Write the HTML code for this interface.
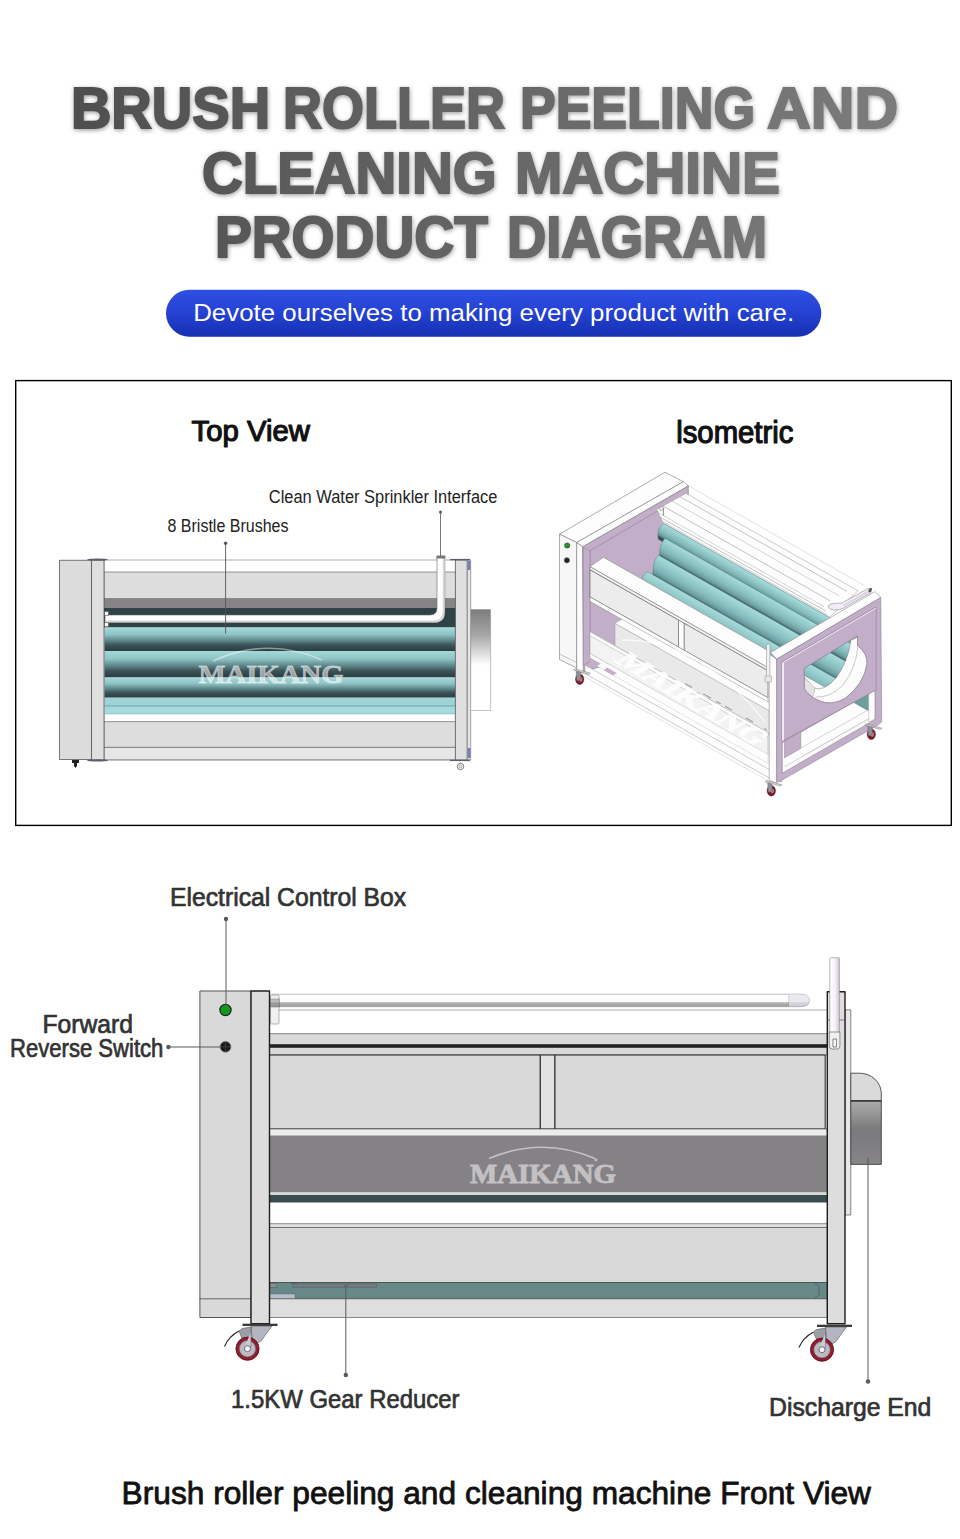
<!DOCTYPE html>
<html lang="en">
<head>
<meta charset="utf-8">
<title>Brush Roller Peeling and Cleaning Machine Product Diagram</title>
<style>
html,body{margin:0;padding:0;background:#fff;}
body{width:960px;height:1539px;overflow:hidden;position:relative;font-family:"Liberation Sans",sans-serif;}
svg{position:absolute;left:0;top:0;display:block;}
text{font-family:"Liberation Sans",sans-serif;}
.ttl text{font-weight:bold;font-size:57.5px;fill:url(#tg);stroke:url(#tg);stroke-width:2px;stroke-linejoin:miter;}
.med{stroke-linejoin:round;}
.wm{font-family:"Liberation Serif",serif;font-weight:bold;}
</style>
</head>
<body>
<svg width="960" height="1539" viewBox="0 0 960 1539">
<defs>
<linearGradient id="tg" gradientUnits="userSpaceOnUse" x1="70" y1="0" x2="900" y2="0">
<stop offset="0" stop-color="#4f4f4f"/><stop offset="1" stop-color="#7c7c7c"/>
</linearGradient>
<filter id="tsh" x="-5%" y="-20%" width="110%" height="150%">
<feDropShadow dx="0.5" dy="1.3" stdDeviation="2.3" flood-color="#000" flood-opacity="0.4"/>
</filter>
<linearGradient id="pill" x1="0" y1="0" x2="0" y2="1">
<stop offset="0" stop-color="#2f50e4"/><stop offset="0.5" stop-color="#2441d2"/><stop offset="1" stop-color="#1530b0"/>
</linearGradient>
</defs>

<!-- ===== HEADER ===== -->
<g id="header">
<g class="ttl" filter="url(#tsh)">
<text x="70.9" y="127.6" textLength="199.2" lengthAdjust="spacingAndGlyphs">BRUSH</text>
<text x="282.9" y="127.6" textLength="222.1" lengthAdjust="spacingAndGlyphs">ROLLER</text>
<text x="519.9" y="127.6" textLength="235.2" lengthAdjust="spacingAndGlyphs">PEELING</text>
<text x="767.0" y="127.6" textLength="131.1" lengthAdjust="spacingAndGlyphs">AND</text>
<text x="202.0" y="192.7" textLength="294.6" lengthAdjust="spacingAndGlyphs">CLEANING</text>
<text x="514.9" y="192.7" textLength="265.1" lengthAdjust="spacingAndGlyphs">MACHINE</text>
<text x="214.9" y="256.6" textLength="273.0" lengthAdjust="spacingAndGlyphs">PRODUCT</text>
<text x="506.9" y="256.6" textLength="260.2" lengthAdjust="spacingAndGlyphs">DIAGRAM</text>
</g>
<rect x="166" y="289.8" width="655.3" height="46.9" rx="23.45" fill="url(#pill)"/>
<text id="sub" x="193.2" y="321.3" font-size="24.6" fill="#fff" textLength="601" lengthAdjust="spacingAndGlyphs">Devote ourselves to making every product with care.</text>
</g>

<!-- ===== BOX ===== -->
<rect x="15.7" y="380.6" width="935.6" height="444.8" fill="#fff" stroke="#000" stroke-width="1.4"/>
<text id="tv" class="med" x="191.6" y="441.2" font-size="29.3" fill="#111" stroke="#111" stroke-width="1.2" textLength="118.2" lengthAdjust="spacingAndGlyphs">Top View</text>
<text id="iso" class="med" x="676.2" y="443" font-size="30.5" fill="#111" stroke="#111" stroke-width="1.2" textLength="117.2" lengthAdjust="spacingAndGlyphs">lsometric</text>
<text id="cw" x="268.8" y="503.1" font-size="17.5" fill="#222" textLength="228.6" lengthAdjust="spacingAndGlyphs">Clean Water Sprinkler Interface</text>
<text id="bb" x="167.5" y="532" font-size="17.5" fill="#222" textLength="121.0" lengthAdjust="spacingAndGlyphs">8 Bristle Brushes</text>

<!--TV0--><!-- ===== TOP VIEW ===== -->
<defs>
<linearGradient id="rol" x1="0" y1="0" x2="0" y2="1">
<stop offset="0" stop-color="#a3d9db"/><stop offset="0.3" stop-color="#8fc3c5"/><stop offset="0.55" stop-color="#5f878a"/><stop offset="0.75" stop-color="#3a5357"/><stop offset="1" stop-color="#2b3c40"/>
</linearGradient>
<linearGradient id="dis1" x1="0" y1="0" x2="0" y2="1">
<stop offset="0" stop-color="#7d7d7d"/><stop offset="0.25" stop-color="#a5a5a5"/><stop offset="0.55" stop-color="#ffffff"/><stop offset="1" stop-color="#ffffff"/>
</linearGradient>
<linearGradient id="pipeh" x1="0" y1="0" x2="0" y2="1">
<stop offset="0" stop-color="#ffffff"/><stop offset="0.7" stop-color="#ffffff"/><stop offset="1" stop-color="#c8c8c8"/>
</linearGradient>
<linearGradient id="pipev" x1="0" y1="0" x2="1" y2="0">
<stop offset="0" stop-color="#ffffff"/><stop offset="0.6" stop-color="#f0ecf2"/><stop offset="1" stop-color="#c9c3cc"/>
</linearGradient>
</defs>
<g id="topview" stroke-linejoin="round">
<!-- frame rails -->
<rect x="104" y="560" width="352" height="200" fill="#fff" stroke="#777" stroke-width="0.6"/>
<rect x="104" y="572" width="352" height="26.5" fill="#dddddd" stroke="#555" stroke-width="0.6"/>
<rect x="104" y="598.5" width="352" height="9.5" fill="#858385"/>
<rect x="104" y="608" width="352" height="19.5" fill="#2f4246"/>
<!-- rollers -->
<rect x="104.5" y="627.5" width="351" height="23.5" fill="url(#rol)"/>
<rect x="104.5" y="651" width="351" height="26.5" fill="url(#rol)"/>
<rect x="104.5" y="677.5" width="351" height="20.2" fill="url(#rol)"/>
<rect x="104.5" y="697.7" width="351" height="8.3" fill="#9dd3d6"/>
<rect x="104.5" y="706" width="351" height="8" fill="#a6dbde"/>
<line x1="104.5" y1="706" x2="455.5" y2="706" stroke="#5f9092" stroke-width="0.7"/>
<line x1="104.5" y1="714" x2="455.5" y2="714" stroke="#7aa" stroke-width="0.5"/>
<rect x="104" y="721.6" width="352" height="25.8" fill="#dddddd" stroke="#555" stroke-width="0.6"/>
<rect x="104" y="747.4" width="352" height="12.4" fill="#e6e6e6" stroke="#555" stroke-width="0.6"/>
<!-- sprinkler pipe -->
<path d="M105 615 H430 Q437 615 437 608 V557 H444.8 V612 Q444.8 622.6 434 622.6 H105 Z" fill="#fff" stroke="#666" stroke-width="0.6"/>
<path d="M105 620.5 H434 Q442.8 620.5 442.8 611 V557 H444.8 V612 Q444.8 622.6 434 622.6 H105 Z" fill="#cfcad2" opacity="0.8"/>
<rect x="436.5" y="555.5" width="8.8" height="3" fill="#777"/>
<rect x="104.5" y="611.5" width="4" height="4" fill="#fff" stroke="#444" stroke-width="0.5"/>
<rect x="104.5" y="622.6" width="4" height="4" fill="#fff" stroke="#444" stroke-width="0.5"/>
<!-- left cabinet + posts -->
<rect x="59.5" y="560.3" width="32" height="199.2" fill="#dcdcdc" stroke="#444" stroke-width="0.7"/>
<rect x="91.5" y="560" width="12.5" height="200" fill="#dfdfdf" stroke="#444" stroke-width="0.7"/>
<ellipse cx="97.5" cy="559.6" rx="10.5" ry="1.2" fill="#5a6070"/>
<ellipse cx="97.5" cy="760.4" rx="10.5" ry="1.2" fill="#5a6070"/>
<path d="M72 760 h7 v3 h-2 v3 l-1.5 2 l-1.5 -2 v-3 h-2 z" fill="#222"/>
<!-- right post -->
<rect x="455.4" y="560" width="11.9" height="200" fill="#dfdfdf" stroke="#444" stroke-width="0.7"/>
<rect x="467.3" y="560" width="3.4" height="200" fill="#e4e4ea" stroke="#555" stroke-width="0.5"/>
<rect x="467.5" y="561" width="3" height="9" fill="#7880a8"/>
<rect x="467.5" y="748" width="3" height="10" fill="#7880a8"/>
<path d="M450 559.6 H470 " stroke="#5a6070" stroke-width="1.4"/>
<path d="M450 760.4 H470 " stroke="#5a6070" stroke-width="1.4"/>
<circle cx="460.5" cy="766.5" r="3.2" fill="#fff" stroke="#444" stroke-width="0.7"/>
<circle cx="460.5" cy="766.5" r="1.4" fill="#fff" stroke="#444" stroke-width="0.5"/>
<!-- discharge -->
<rect x="470.7" y="609.5" width="19.9" height="101" fill="url(#dis1)" stroke="#999" stroke-width="0.6"/>
<!-- watermark -->
<path d="M213 661 Q268 636 322 660" fill="none" stroke="#fff" stroke-opacity="0.45" stroke-width="1.6"/>
<text class="wm" x="198.5" y="683.3" font-size="26" fill="#ffffff" fill-opacity="0.5" stroke="#fff" stroke-opacity="0.5" stroke-width="0.8" textLength="145" lengthAdjust="spacingAndGlyphs">MAIKANG</text>
<!-- leaders -->
<line x1="225.6" y1="543.3" x2="225.6" y2="633.5" stroke="#555" stroke-width="0.9"/>
<circle cx="225.6" cy="543.3" r="1.7" fill="#555"/>
<line x1="440.5" y1="512" x2="440.5" y2="556" stroke="#555" stroke-width="0.8"/>
<circle cx="440.5" cy="512" r="1.5" fill="#555"/>
</g>
<!--TV1-->
<!--ISO0--><!-- ===== ISOMETRIC ===== -->
<g id="isoview" stroke-linejoin="round">
<polygon points="582.5,546.7 688.3,485.8 688.3,640.0 582.5,672.0" fill="#c2aec8" stroke="#777" stroke-width="0.6" />
<line x1="590.0" y1="550.8" x2="683.3" y2="495.8" stroke="#85758c" stroke-width="0.5" />
<line x1="590.0" y1="550.8" x2="590.0" y2="662.0" stroke="#85758c" stroke-width="0.5" />
<polygon points="559.5,534.2 665.0,472.2 683.3,481.7 576.7,542.5" fill="#fdfdfd" stroke="#777" stroke-width="0.6" />
<polygon points="559.5,534.2 576.7,542.5 576.7,668.0 559.5,659.5" fill="#f7f7f7" stroke="#777" stroke-width="0.6" />
<line x1="559.5" y1="654.0" x2="576.7" y2="662.5" stroke="#999" stroke-width="0.5" />
<polygon points="576.7,542.5 683.3,481.7 688.3,485.8 582.5,546.7" fill="#fdfdfd" stroke="#777" stroke-width="0.6" />
<polygon points="576.7,542.5 582.5,546.7 583.3,673.3 576.7,671.0" fill="#fdfdfd" stroke="#777" stroke-width="0.6" />
<polygon points="583.3,547.3 590.0,550.8 590.0,661.7 583.3,665.0" fill="#c2aec8" stroke="#85758c" stroke-width="0.4" />
<circle cx="567.2" cy="545.5" r="2.6" fill="#1f9a2a" stroke="#333" stroke-width="0.6"/>
<circle cx="566.9" cy="560.3" r="2.8" fill="#222" stroke="#999" stroke-width="0.6"/>
<polygon points="686.0,493.3 858.0,590.8 829.3,617.4 663.3,523.3 656.7,509.5" fill="#fdfdfd" stroke="#999" stroke-width="0.5" />
<line x1="680.0" y1="496.7" x2="847.0" y2="591.4" stroke="#888" stroke-width="0.5" />
<line x1="672.0" y1="501.0" x2="839.0" y2="595.7" stroke="#aaa" stroke-width="0.5" />
<line x1="663.0" y1="506.0" x2="830.0" y2="600.7" stroke="#888" stroke-width="0.5" />
<line x1="658.0" y1="512.5" x2="824.0" y2="606.6" stroke="#aaa" stroke-width="0.5" />
<line x1="660.0" y1="517.0" x2="826.0" y2="611.1" stroke="#888" stroke-width="0.5" />
<line x1="662.0" y1="521.0" x2="828.0" y2="615.1" stroke="#aaa" stroke-width="0.5" />
<line x1="688.3" y1="485.8" x2="863.3" y2="585.0" stroke="#c4c4c4" stroke-width="0.5" />
<linearGradient id="ir0" gradientUnits="userSpaceOnUse" x1="663.3" y1="523.3" x2="656.4" y2="535.4"><stop offset="0" stop-color="#a6dcdc"/><stop offset="0.3" stop-color="#97cccd"/><stop offset="0.6" stop-color="#84b9bb"/><stop offset="0.85" stop-color="#689a9d"/><stop offset="0.96" stop-color="#446669"/><stop offset="1" stop-color="#354f53"/></linearGradient>
<path d="M663.3 523.3 L863.3 636.7 L858.3 652.7 L658.3 539.3 Q656.3 528.9 663.3 523.3 Z" fill="url(#ir0)" stroke="#4a6a6e" stroke-width="0.4"/>
<linearGradient id="ir1" gradientUnits="userSpaceOnUse" x1="665.0" y1="538.3" x2="656.0" y2="554.2"><stop offset="0" stop-color="#a6dcdc"/><stop offset="0.3" stop-color="#97cccd"/><stop offset="0.6" stop-color="#84b9bb"/><stop offset="0.85" stop-color="#689a9d"/><stop offset="0.96" stop-color="#446669"/><stop offset="1" stop-color="#354f53"/></linearGradient>
<path d="M665.0 538.3 L865.0 651.7 L860.0 672.7 L660.0 559.3 Q658.0 545.6 665.0 538.3 Z" fill="url(#ir1)" stroke="#4a6a6e" stroke-width="0.4"/>
<linearGradient id="ir2" gradientUnits="userSpaceOnUse" x1="658.3" y1="555.0" x2="648.0" y2="573.2"><stop offset="0" stop-color="#a6dcdc"/><stop offset="0.3" stop-color="#97cccd"/><stop offset="0.6" stop-color="#84b9bb"/><stop offset="0.85" stop-color="#689a9d"/><stop offset="0.96" stop-color="#446669"/><stop offset="1" stop-color="#354f53"/></linearGradient>
<path d="M658.3 555.0 L858.3 668.4 L853.3 692.4 L653.3 579.0 Q651.3 563.4 658.3 555.0 Z" fill="url(#ir2)" stroke="#4a6a6e" stroke-width="0.4"/>
<linearGradient id="ir3" gradientUnits="userSpaceOnUse" x1="647.5" y1="571.7" x2="637.2" y2="589.9"><stop offset="0" stop-color="#a6dcdc"/><stop offset="0.3" stop-color="#97cccd"/><stop offset="0.6" stop-color="#84b9bb"/><stop offset="0.85" stop-color="#689a9d"/><stop offset="0.96" stop-color="#446669"/><stop offset="1" stop-color="#354f53"/></linearGradient>
<path d="M647.5 571.7 L843.5 682.8 L838.5 694.8 L642.5 583.7 Q640.5 575.9 647.5 571.7 Z" fill="url(#ir3)" stroke="#4a6a6e" stroke-width="0.4"/>
<path d="M851 640 Q848 662 836 678 Q824 692 813.8 688 L804 677 L800 700 L830 712 L880 690 L875 630 Z" fill="#fcfcfc" stroke="#777" stroke-width="0.5"/>
<path d="M858 646 Q856 668 843 685 Q830 698 816 697" fill="none" stroke="#999" stroke-width="0.5"/>
<path d="M804 677.5 L813.8 686.5 Q816 692 812 697 L804 690 Z" fill="#e4e4e4" stroke="#999" stroke-width="0.4"/>
<polygon points="590.0,566.7 603.3,557.2 770.3,651.9 770.0,668.8" fill="#fdfdfd" stroke="#888" stroke-width="0.6" />
<polygon points="590.0,566.7 770.0,668.8 770.0,672.0 590.0,569.9" fill="#f2f2f2" stroke="#666" stroke-width="0.5" />
<polygon points="590.0,569.9 678.5,620.1 678.5,647.1 590.0,596.9" fill="#ececec" stroke="#555" stroke-width="0.6" />
<polygon points="684.0,623.2 768.0,670.8 768.0,697.8 684.0,650.2" fill="#ececec" stroke="#555" stroke-width="0.6" />
<polygon points="678.5,620.1 684.0,623.2 684.0,650.2 678.5,647.1" fill="#fdfdfd" stroke="#555" stroke-width="0.5" />
<polygon points="590.0,596.9 768.0,697.8 768.0,702.3 590.0,601.4" fill="#fdfdfd" stroke="#777" stroke-width="0.5" />
<polygon points="615.0,623.3 769.4,710.8 769.4,734.2 615.0,645.9" fill="#e9e9e9" stroke="#999" stroke-width="0.5" />
<polygon points="615.0,623.3 622.0,619.2 770.0,703.1 769.4,710.8" fill="#fdfdfd" stroke="#aaa" stroke-width="0.5" />
<line x1="685.0" y1="683.5" x2="767.0" y2="730.0" stroke="#9a9a9a" stroke-width="1.1" stroke-dasharray="8 13 9 6 5 5 8 16"/>
<polygon points="590.0,631.7 768.0,732.6 768.0,755.6 590.0,653.4" fill="#f3f3f3" stroke="#999" stroke-width="0.5" />
<polygon points="590.0,631.7 768.0,732.6 768.0,736.6 590.0,635.7" fill="#fdfdfd" stroke="#aaa" stroke-width="0.5" />
<polygon points="590.0,653.5 768.0,754.4 768.0,763.4 590.0,662.0" fill="#fdfdfd" stroke="#bbb" stroke-width="0.4" />
<polygon points="585.0,665.0 771.0,770.5 771.0,779.0 585.0,673.5" fill="#fdfdfd" stroke="#999" stroke-width="0.5" />
<polygon points="590.0,657.5 601.0,663.7 596.0,666.5 590.0,663.2" fill="#c2aec8" stroke="none" stroke-width="0" />
<polygon points="607.0,667.5 617.0,673.2 613.0,675.3 604.0,670.3" fill="#c2aec8" stroke="none" stroke-width="0" />
<line x1="585.0" y1="677.0" x2="771.0" y2="782.5" stroke="#c8c8c8" stroke-width="0.5" />
<polygon points="782.0,742.0 876.0,690.0 876.0,722.0 782.0,776.0" fill="#fdfdfd" stroke="#aaa" stroke-width="0.4" />
<line x1="801.0" y1="748.0" x2="868.0" y2="710.0" stroke="#aaa" stroke-width="0.5" />
<line x1="801.0" y1="757.0" x2="868.0" y2="719.0" stroke="#bbb" stroke-width="0.4" />
<line x1="784.0" y1="767.0" x2="872.0" y2="717.0" stroke="#aaa" stroke-width="0.5" />
<polygon points="853.7,702.5 868.7,694.0 868.7,710.5 865.0,709.0" fill="#6f9f9d" stroke="#578" stroke-width="0.4" />
<polygon points="868.7,693.0 875.0,689.5 875.0,719.0 868.7,722.0" fill="#fdfdfd" stroke="#999" stroke-width="0.4" />
<polygon points="769.2,654.0 776.7,659.2 776.7,783.3 769.2,780.0" fill="#fdfdfd" stroke="#777" stroke-width="0.5" />
<polygon points="770.5,652.5 875.0,591.5 880.8,597.5 776.7,659.2" fill="#fdfdfd" stroke="#777" stroke-width="0.5" />
<path d="M776.7 659.2 L880.8 597.5 L881.7 722.0 L876.7 725.8 L781.7 780.3 L781.7 781.7 L776.7 781.7 Z M782.2 742.8 L875.2 689.8 L875.2 719.4 L782.2 773.2 Z M804.2 668.3 L857.5 635.8 L857.5 645.5 Q868 654 867 664 Q864 684 845 698.5 Q831 706 820 701 Q808 696 804.3 688.5 Z" fill="#c2aec8" fill-rule="evenodd" stroke="#85758c" stroke-width="0.5"/>
<polygon points="784.4,741.0 800.8,731.5 800.8,748.5 784.4,758.0" fill="#c2aec8" stroke="#85758c" stroke-width="0.4" />
<path d="M781.9 661.9 L876.2 607.0 L876.2 690.0 L781.9 741.5 Z M804.2 668.3 L857.5 635.8 L857.5 645.5 Q868 654 867 664 Q864 684 845 698.5 Q831 706 820 701 Q808 696 804.3 688.5 Z" fill="#c2aec8" fill-rule="evenodd" stroke="#85758c" stroke-width="0.5"/>
<polygon points="781.9,661.9 784.4,663.2 784.4,740.0 781.9,741.5" fill="#f6f2f7" stroke="#85758c" stroke-width="0.3" />
<line x1="782.5" y1="662.8" x2="876.0" y2="608.2" stroke="#f3eef5" stroke-width="0.9" />
<path d="M828 606.5 Q830 603 836 603.2 L841.5 603.2 L868.5 588.2 L871.5 592 L845 607.5 Q840 610.5 834 610 Q829 609.5 828 606.5 Z" fill="#f3ecf6" stroke="#777" stroke-width="0.5"/>
<path d="M843 606 L870 590.5" fill="none" stroke="#d9cfe0" stroke-width="1.6"/>
<ellipse cx="870.2" cy="590" rx="1.5" ry="2.4" transform="rotate(30 870.2 590)" fill="#555"/>
<circle cx="661.5" cy="508.5" r="2" fill="#eee" stroke="#777" stroke-width="0.5"/>
<line x1="663.5" y1="508.0" x2="663.5" y2="516.0" stroke="#999" stroke-width="1.2" />
<rect x="766.5" y="644" width="3.4" height="34" rx="1.5" fill="#f2f2f2" stroke="#888" stroke-width="0.5"/>
<rect x="765" y="676" width="6.5" height="6" rx="1" fill="#e8e8e8" stroke="#888" stroke-width="0.5"/>
<path d="M582.7 672.7 l-9 -2.6 l1.5 -1.2 l15 4.3 l-1.5 1.2z" fill="#d8d8d8" stroke="#555" stroke-width="0.4"/>
<ellipse cx="579.7" cy="679.2" rx="4.2" ry="5.3" fill="#7d1829" stroke="#4a0c16" stroke-width="0.4"/>
<ellipse cx="580.8" cy="679.5" rx="1.7" ry="2.4" fill="#a9777f"/>
<path d="M576.0 671.2 l4.5 1.3 l0.3 6 l-2.2 2.5 l-2 -0.8 z" fill="#8e8e96" stroke="#555" stroke-width="0.3"/>
<path d="M774.3 784.3 l-9 -2.6 l1.5 -1.2 l15 4.3 l-1.5 1.2z" fill="#d8d8d8" stroke="#555" stroke-width="0.4"/>
<ellipse cx="771.3" cy="790.8" rx="4.2" ry="5.3" fill="#7d1829" stroke="#4a0c16" stroke-width="0.4"/>
<ellipse cx="772.4" cy="791.1" rx="1.7" ry="2.4" fill="#a9777f"/>
<path d="M767.6 782.8 l4.5 1.3 l0.3 6 l-2.2 2.5 l-2 -0.8 z" fill="#8e8e96" stroke="#555" stroke-width="0.3"/>
<path d="M874.3 727.7 l-9 -2.6 l1.5 -1.2 l15 4.3 l-1.5 1.2z" fill="#d8d8d8" stroke="#555" stroke-width="0.4"/>
<ellipse cx="871.3" cy="734.2" rx="4.2" ry="5.3" fill="#7d1829" stroke="#4a0c16" stroke-width="0.4"/>
<ellipse cx="872.4" cy="734.5" rx="1.7" ry="2.4" fill="#a9777f"/>
<path d="M867.6 726.2 l4.5 1.3 l0.3 6 l-2.2 2.5 l-2 -0.8 z" fill="#8e8e96" stroke="#555" stroke-width="0.3"/>
<path d="M622 640 Q700 640 765 722" fill="none" stroke="#fff" stroke-opacity="0.7" stroke-width="1.4"/>
<text class="wm" transform="translate(613,661) rotate(31) skewX(-28)" font-size="25" fill="#fff" fill-opacity="0.9" stroke="#fff" stroke-opacity="0.9" stroke-width="0.7" textLength="166" lengthAdjust="spacingAndGlyphs">MAIKANG</text>
</g>
<!--ISO1-->

<!-- ===== FRONT VIEW LABELS ===== -->
<text id="ecb" class="med" x="170.0" y="905.9" font-size="25.2" fill="#333" stroke="#333" stroke-width="0.7" textLength="236.2" lengthAdjust="spacingAndGlyphs">Electrical Control Box</text>
<text id="fw" class="med" x="42.4" y="1032.7" font-size="25.2" fill="#333" stroke="#333" stroke-width="0.7" textLength="90.6" lengthAdjust="spacingAndGlyphs">Forward</text>
<text id="rs" class="med" x="10.0" y="1056.8" font-size="25.2" fill="#333" stroke="#333" stroke-width="0.7" textLength="153.4" lengthAdjust="spacingAndGlyphs">Reverse Switch</text>
<text id="gr" class="med" x="231.0" y="1408" font-size="25.2" fill="#333" stroke="#333" stroke-width="0.7" textLength="228.6" lengthAdjust="spacingAndGlyphs">1.5KW Gear Reducer</text>
<text id="de" class="med" x="769.0" y="1415.8" font-size="25.2" fill="#333" stroke="#333" stroke-width="0.7" textLength="162.4" lengthAdjust="spacingAndGlyphs">Discharge End</text>
<text id="cap" class="med" x="121.6" y="1503.8" font-size="30.8" fill="#111" stroke="#111" stroke-width="0.8" textLength="749.4" lengthAdjust="spacingAndGlyphs">Brush roller peeling and cleaning machine Front View</text>

<!--FV0--><!-- ===== FRONT VIEW ===== -->
<defs>
<linearGradient id="fpipe" x1="0" y1="0" x2="0" y2="1">
<stop offset="0" stop-color="#ffffff"/><stop offset="0.6" stop-color="#fafafa"/><stop offset="0.68" stop-color="#b4b4b4"/><stop offset="1" stop-color="#9a9a9a"/>
</linearGradient>
<linearGradient id="fpipev" x1="0" y1="0" x2="1" y2="0">
<stop offset="0" stop-color="#ffffff"/><stop offset="0.55" stop-color="#f6f2f8"/><stop offset="1" stop-color="#cfc6d4"/>
</linearGradient>
<linearGradient id="dis2" x1="0" y1="0" x2="0" y2="1">
<stop offset="0" stop-color="#ababab"/><stop offset="0.2" stop-color="#979797"/><stop offset="0.45" stop-color="#7a797b"/><stop offset="1" stop-color="#878587"/>
</linearGradient>
</defs>
<g id="frontview" stroke-linejoin="round">
<!-- back plate + discharge -->
<rect x="845" y="1009.8" width="5.8" height="205.2" fill="#e6e6e8" stroke="#555" stroke-width="0.7"/>
<path d="M850.8 1073.2 H859.5 A21.8 20.3 0 0 1 881.3 1093.5 V1100.9 H850.8 Z" fill="#dadada" stroke="#444" stroke-width="0.9"/>
<rect x="850.8" y="1100.9" width="30.5" height="63.5" fill="url(#dis2)" stroke="#444" stroke-width="0.9"/>
<line x1="850.8" y1="1100.9" x2="881.3" y2="1100.9" stroke="#3a3a3a" stroke-width="1.6"/>
<!-- inner frame background -->
<rect x="269.5" y="1010" width="558" height="307.5" fill="#fff"/>
<line x1="269.5" y1="1010" x2="827" y2="1010" stroke="#888" stroke-width="0.7"/>
<!-- top pipe -->
<path d="M272 994.2 H800 Q809.6 994.2 809.6 1000.4 Q809.6 1006.7 800 1006.7 H272 Z" fill="url(#fpipe)" stroke="#999" stroke-width="0.6"/>
<path d="M789 994.4 V1006.5" stroke="#999" stroke-width="0.6"/>
<path d="M789 994.4 H800 Q809.4 994.4 809.4 1000.4 Q809.4 1006.5 800 1006.5 H789 Z" fill="#e6dfe9" fill-opacity="0.7"/>
<rect x="270.5" y="995" width="8.5" height="29" rx="1" fill="#f0f0f0" stroke="#888" stroke-width="0.6"/>
<rect x="270" y="999" width="9.5" height="3.5" fill="#bbb" stroke="#666" stroke-width="0.4"/>
<rect x="270" y="1003.5" width="9.5" height="3.5" fill="#999" stroke="#555" stroke-width="0.4"/>
<!-- upper rail -->
<rect x="269.5" y="1033.7" width="557.8" height="21.3" fill="#d9d9d9" stroke="#555" stroke-width="0.7"/>
<rect x="269.5" y="1044.2" width="557.8" height="3.6" fill="#222"/>
<!-- upper panels -->
<rect x="269.5" y="1055" width="270.8" height="74" fill="#d9d9d9" stroke="#222" stroke-width="1"/>
<rect x="540.3" y="1055" width="14.7" height="74" fill="#e2e2e2" stroke="#222" stroke-width="1"/>
<rect x="555" y="1055" width="270.2" height="74" fill="#d9d9d9" stroke="#222" stroke-width="1"/>
<rect x="269.5" y="1129" width="557.8" height="7" fill="#ececec" stroke="#444" stroke-width="0.6"/>
<!-- dark band -->
<rect x="269.5" y="1136" width="557.8" height="56.5" fill="#848284"/>
<rect x="269.5" y="1192.5" width="557.8" height="2.5" fill="#d8d8d8"/>
<rect x="269.5" y="1195" width="557.8" height="7.5" fill="#3c4d51"/>
<!-- lower -->
<rect x="269.5" y="1223.7" width="557.8" height="3.8" fill="#e2e2e2" stroke="#444" stroke-width="0.6"/>
<rect x="269.5" y="1227.5" width="557.8" height="55" fill="#d9d9d9" stroke="#444" stroke-width="0.6"/>
<rect x="269.5" y="1282.5" width="557.8" height="16.3" fill="#668886" stroke="#344" stroke-width="0.7"/>
<path d="M290 1283 h6 l2 3 h50 v-3" fill="none" stroke="#344" stroke-width="0.5"/>
<rect x="293" y="1284" width="52" height="3.2" fill="#7a7d86" stroke="#444" stroke-width="0.4"/>
<rect x="347" y="1284" width="29.5" height="3.2" fill="#7a7d86" stroke="#444" stroke-width="0.4"/>
<rect x="270" y="1283.5" width="7" height="4" fill="#8a8d96" stroke="#444" stroke-width="0.4"/>
<rect x="270" y="1294" width="25" height="4.8" fill="#b9bccb" stroke="#556" stroke-width="0.4"/>
<path d="M815 1283 l4 3 v9 l-4 3" fill="none" stroke="#344" stroke-width="0.5"/>
<rect x="269.5" y="1298.8" width="557.8" height="18.7" fill="#dedede" stroke="#444" stroke-width="0.6"/>
<!-- cabinet -->
<rect x="199.9" y="991" width="51.1" height="326.5" fill="#d9d9d9" stroke="#555" stroke-width="1"/>
<line x1="199.5" y1="1298.8" x2="251" y2="1298.8" stroke="#333" stroke-width="0.7"/>
<rect x="251" y="991" width="18.5" height="332.7" fill="#dddddd" stroke="#1e1e1e" stroke-width="1.4"/>
<circle cx="225.5" cy="1010" r="5.6" fill="#129a1e" stroke="#222" stroke-width="1.2"/>
<circle cx="225.5" cy="1046.8" r="5.4" fill="#1a1a1a" stroke="#777" stroke-width="0.8"/>
<path d="M220.5 1046.8 h10 M225.5 1041.8 v10" stroke="#555" stroke-width="0.6"/>
<!-- right post -->
<rect x="827.3" y="991.7" width="17.7" height="332" fill="#dddddd" stroke="#1e1e1e" stroke-width="1.4"/>
<!-- vertical pipe -->
<rect x="829.8" y="957.7" width="9.6" height="78" rx="1" fill="url(#fpipev)" stroke="#888" stroke-width="0.6"/>
<path d="M829.3 1032 h10.6 v14 q0 3 -3 3 h-4.6 q-3 0 -3 -3 z" fill="#f0f0f0" stroke="#555" stroke-width="0.6"/>
<rect x="833" y="1039" width="3.4" height="8" fill="#fff" stroke="#333" stroke-width="0.6"/>
<path d="M827.3 1020 h2.5 M839.4 1020 h5.6" stroke="#444" stroke-width="0.6"/>
<!-- casters -->
<g id="cast1">
<rect x="242.5" y="1323.7" width="35" height="2.3" fill="#3a3a3a"/>
<path d="M251 1326 h21 l-11 15 l-8 4 z" fill="#b4b5c2" stroke="#555" stroke-width="0.6"/>
<path d="M239 1331 l3 -2.5 l9 -1.5 v18 l-8 -4 z" fill="#9d9ea8" stroke="#444" stroke-width="0.5"/>
<path d="M224.5 1346.5 q4 -10 14.5 -15.5" fill="none" stroke="#222" stroke-width="1.1"/>
<circle cx="247.5" cy="1348.7" r="11.6" fill="#8f1d30" stroke="#5a0f1a" stroke-width="0.8"/>
<circle cx="247.5" cy="1348.7" r="8.2" fill="#b9bac4" stroke="#666" stroke-width="0.6"/>
<path d="M251 1332 v14 a4 4 0 0 1 -7 2.5" fill="#c9cad2" stroke="#555" stroke-width="0.5"/>
<circle cx="247.5" cy="1348.7" r="3" fill="#f4f4f4" stroke="#444" stroke-width="0.7"/>
</g>
<g id="cast2" transform="translate(574.5 1)">
<rect x="242.5" y="1323.7" width="35" height="2.3" fill="#3a3a3a"/>
<path d="M251 1326 h21 l-11 15 l-8 4 z" fill="#b4b5c2" stroke="#555" stroke-width="0.6"/>
<path d="M239 1331 l3 -2.5 l9 -1.5 v18 l-8 -4 z" fill="#9d9ea8" stroke="#444" stroke-width="0.5"/>
<path d="M224.5 1346.5 q4 -10 14.5 -15.5" fill="none" stroke="#222" stroke-width="1.1"/>
<circle cx="247.5" cy="1348.7" r="11.6" fill="#8f1d30" stroke="#5a0f1a" stroke-width="0.8"/>
<circle cx="247.5" cy="1348.7" r="8.2" fill="#b9bac4" stroke="#666" stroke-width="0.6"/>
<path d="M251 1332 v14 a4 4 0 0 1 -7 2.5" fill="#c9cad2" stroke="#555" stroke-width="0.5"/>
<circle cx="247.5" cy="1348.7" r="3" fill="#f4f4f4" stroke="#444" stroke-width="0.7"/>
</g>
<!-- watermark -->
<path d="M489 1158.5 Q542 1136 595 1158.5" fill="none" stroke="#c4c2c4" stroke-width="1.5"/>
<circle cx="596" cy="1160" r="1.4" fill="#c4c2c4"/>
<text class="wm" x="470" y="1183" font-size="27" fill="#c3c1c3" stroke="#c3c1c3" stroke-width="0.9" textLength="146" lengthAdjust="spacingAndGlyphs">MAIKANG</text>
<!-- leaders -->
<g stroke="#5a5a5a" stroke-width="1" fill="#5a5a5a">
<line x1="226" y1="919" x2="226" y2="1006"/><circle cx="226" cy="919" r="2.2" stroke="none"/>
<line x1="168.4" y1="1047" x2="221" y2="1047"/><circle cx="168.4" cy="1047" r="2.2" stroke="none"/>
<line x1="345.8" y1="1286" x2="345.8" y2="1375"/><circle cx="345.8" cy="1375" r="2.2" stroke="none"/>
<line x1="868" y1="1158" x2="868" y2="1381.5"/><circle cx="868" cy="1381.5" r="2.2" stroke="none"/>
</g>
</g>
<!--FV1-->
</svg>
</body>
</html>
